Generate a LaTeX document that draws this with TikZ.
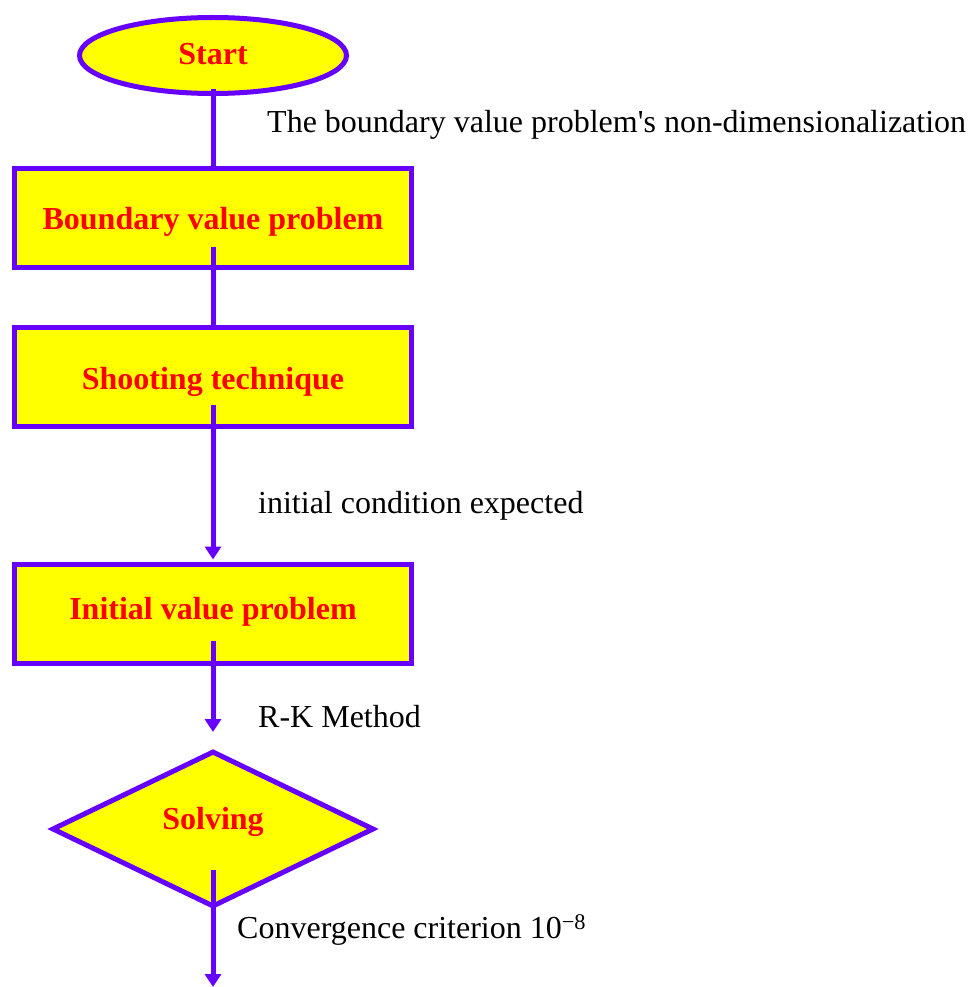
\documentclass[tikz,border=0pt]{standalone}
\usepackage{fontspec}
\setmainfont{Liberation Serif}
\usetikzlibrary{shapes.geometric,arrows.meta}
\definecolor{lineblue}{HTML}{6600FF}
\definecolor{fillyellow}{HTML}{FFFF00}
\definecolor{textred}{HTML}{FF0000}
\begin{document}
\begin{tikzpicture}[x=1pt,y=-1pt,
  every node/.style={font=\fontsize{32}{38}\selectfont},
  shapebox/.style={draw=lineblue,fill=fillyellow,line width=5pt,
    text=textred,font=\fontsize{32}{38}\selectfont\bfseries,inner sep=0pt},
  procbox/.style={shapebox,rectangle,minimum width=397pt,minimum height=99pt},
  conn/.style={draw=lineblue,line width=5pt},
  arr/.style={conn,-{Triangle[width=16pt,length=13pt]}},
  lbl/.style={anchor=west,inner sep=0pt,text=black}]
\useasboundingbox (0,0) rectangle (968,987);
\node[shapebox,ellipse,minimum width=267pt,minimum height=76pt,text height=18pt,text depth=0pt] (start) at (213,55.5) {Start};
\node[procbox,text height=22pt,text depth=0pt] (bvp) at (213,218) {Boundary value problem};
\node[procbox,text height=24pt,text depth=0pt] (shoot) at (213,377) {Shooting technique};
\node[procbox,text height=11pt,text depth=0pt] (ivp) at (213,613.5) {Initial value problem};
\node[shapebox,diamond,minimum width=322pt,minimum height=156pt,text height=8pt,text depth=8pt] (solve) at (213,829) {Solving};
\coordinate (rkend) at (213,732);
\coordinate (convend) at (213,987);
\draw[conn] (start.south) ++(0,-7) -- (bvp.north);
\draw[conn] (bvp.center) ++(0,29) -- (shoot.north);
\draw[arr] (shoot.center) ++(0,28) -- ([yshift=2pt]ivp.north);
\draw[arr] (ivp.center) ++(0,27) -- (rkend);
\draw[arr] (solve.center) ++(0,41) -- (convend);
\node[lbl] (l1) at (267,125) {The boundary value problem\textquotesingle s non-dimensionalization};
\node[lbl] (l2) at (258,506) {initial condition expected};
\node[lbl] (l3) at (258,717) {R-K Method};
\node[lbl] (l4) at (237,930) {Convergence criterion 10\textsuperscript{\char"2212 8}};
\end{tikzpicture}
\end{document}
